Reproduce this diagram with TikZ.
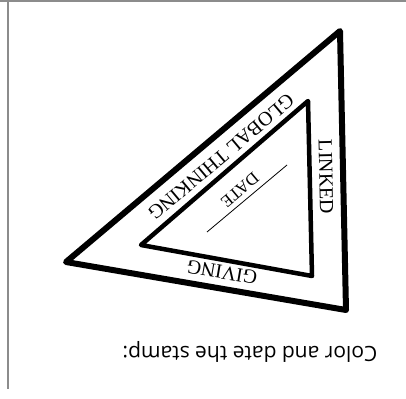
\documentclass[tikz,border=0pt]{standalone}
\usepackage{fontspec}
\setmainfont{Liberation Serif}
\newfontfamily\notefont{Open Sans}
\usetikzlibrary{positioning}
\definecolor{rulegray}{rgb}{0.55,0.55,0.55}
\tikzset{
  outerline/.style={line width=6pt,line join=round},
  innerline/.style={line width=4.5pt,line join=round},
  stamptext/.style={font=\fontsize{20}{20}\selectfont,inner sep=0pt},
}

\begin{document}
\begin{tikzpicture}[x=1pt,y=-1pt]
\useasboundingbox (0,0) rectangle (406,398);
% page rules
\draw [rulegray,line width=2pt] (0,1) -- (406,1);
\draw [rulegray,line width=2pt] (8,0) -- (8,389);
% outer triangle
\coordinate (ot) at (340,31);
\coordinate (ol) at (66,262);
\coordinate (or) at (346,310);
\draw [outerline] (ot) -- (ol) -- (or) -- cycle;
% inner triangle
\coordinate (it) at (308,101);
\coordinate (il) at (141,245);
\coordinate (ir) at (312,276);
\draw [innerline] (it) -- (il) -- (ir) -- cycle;
% labels
\node[stamptext,rotate=220.1] (global) at (221,157) {GLOBAL THINKING};
\node[stamptext,rotate=271.2] (linked) at (326,177) {LINKED};
\node[stamptext,rotate=170.3] (giving) at (222,272) {GIVING};
% date line
\coordinate (da) at (207,232);
\coordinate (db) at (287,165);
\draw [line width=0.8pt] (da) -- (db);
\node[stamptext,font=\fontsize{17}{17}\selectfont,rotate=220] (date) at (240,190) {DATE};
\node[inner sep=0pt,rotate=180,font=\notefont\fontsize{21}{21}\selectfont] (note) at (250,352) {Color and date the stamp:};
\end{tikzpicture}
\end{document}
